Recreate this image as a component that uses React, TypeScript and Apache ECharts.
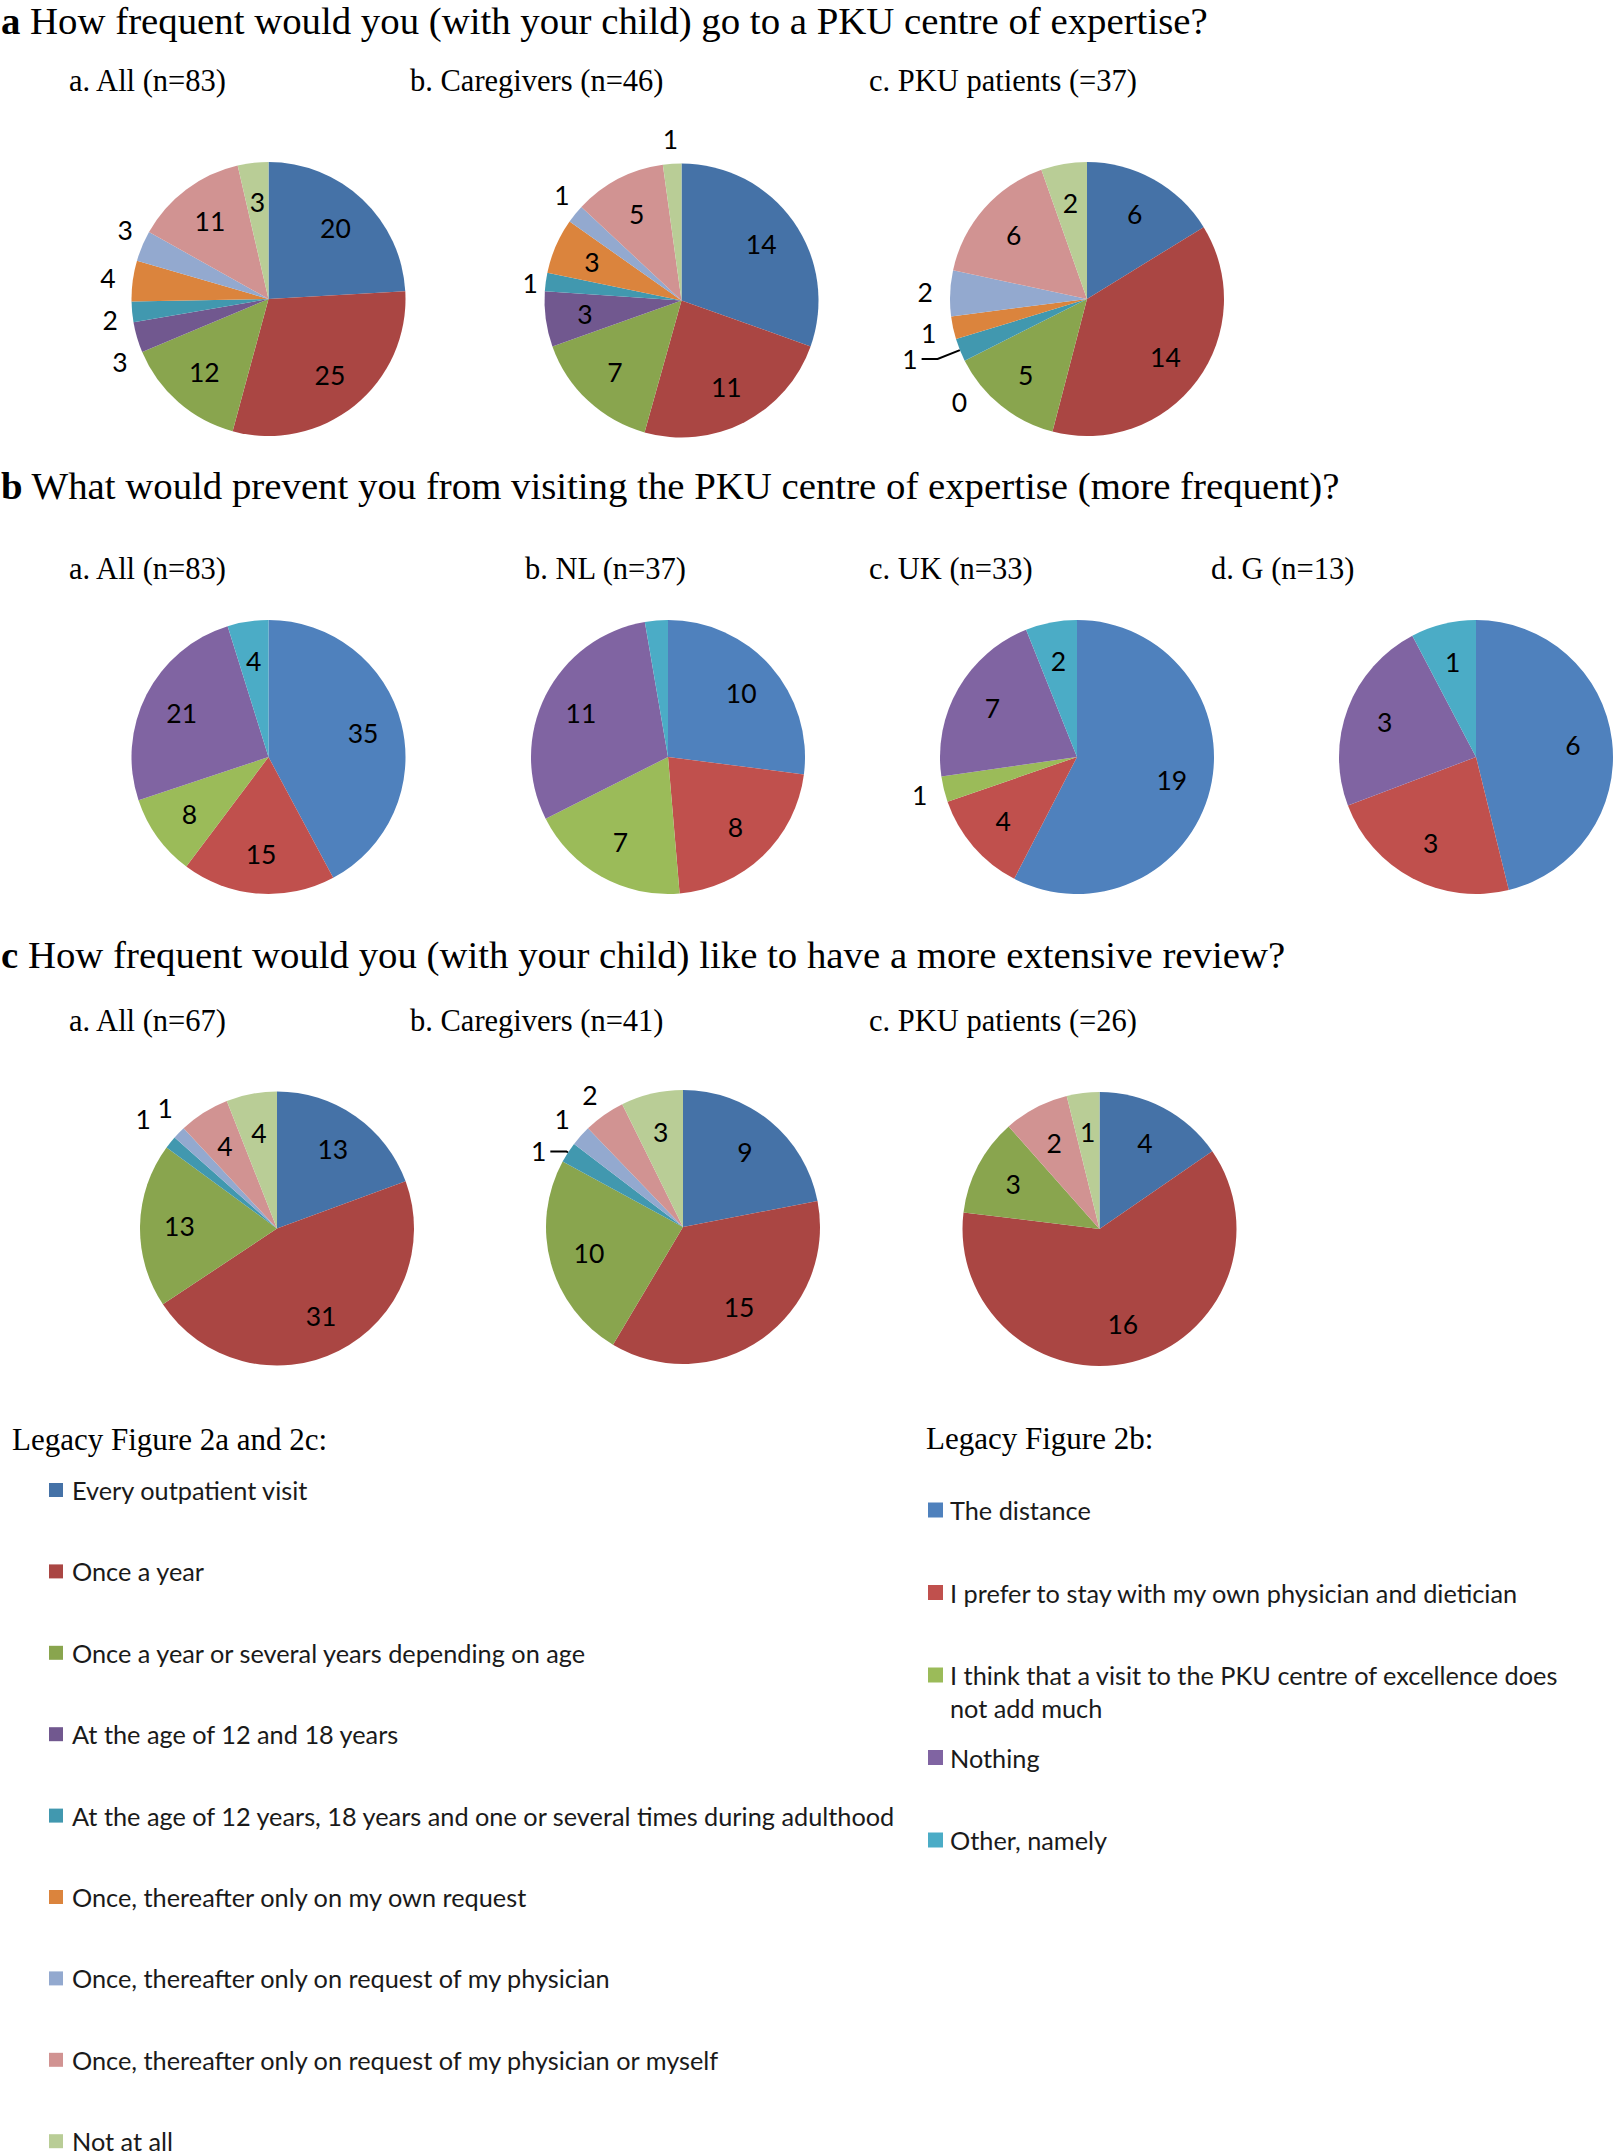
import React, { useEffect, useRef } from 'react';
import * as echarts from 'echarts';

// ---------- categories ----------
const frequencyCategories = [
  'Every outpatient visit',
  'Once a year',
  'Once a year or several years depending on age',
  'At the age of 12 and 18 years',
  'At the age of 12 years, 18 years and one or several times during adulthood',
  'Once, thereafter only on my own request',
  'Once, thereafter only on request of my physician',
  'Once, thereafter only on request of my physician or myself',
  'Not at all',
];
const barrierCategories = [
  'The distance',
  'I prefer to stay with my own physician and dietician',
  'I think that a visit to the PKU centre of excellence does\nnot add much',
  'Nothing',
  'Other, namely',
];

// ---------- values ----------
// Figure a: How frequent would you go to a PKU centre of expertise?
const aAll = [20, 25, 12, 3, 2, 4, 3, 11, 3];
const aCaregivers = [14, 11, 7, 3, 1, 3, 1, 5, 1];
const aPatients = [6, 14, 5, 0, 1, 1, 2, 6, 2];
// Figure b: What would prevent you from visiting?
const bAll = [35, 15, 8, 21, 4];
const bNL = [10, 8, 7, 11, 1];
const bUK = [19, 4, 1, 7, 2];
const bG = [6, 3, 0, 3, 1];
// Figure c: How frequent a more extensive review?
const cAll = [13, 31, 13, 0, 1, 0, 1, 4, 4];
const cCaregivers = [9, 15, 10, 0, 1, 0, 1, 2, 3];
const cPatients = [4, 16, 3, 0, 0, 0, 0, 2, 1];

// ---------- texts ----------
const titleA = 'How frequent would you (with your child) go to a PKU centre of expertise?';
const titleB = 'What would prevent you from visiting the PKU centre of expertise (more frequent)?';
const titleC = 'How frequent would you (with your child) like to have a more extensive review?';
const subtitlesA = ['a. All (n=83)', 'b. Caregivers (n=46)', 'c. PKU patients (=37)'];
const subtitlesB = ['a. All (n=83)', 'b. NL (n=37)', 'c. UK (n=33)', 'd. G (n=13)'];
const subtitlesC = ['a. All (n=67)', 'b. Caregivers (n=41)', 'c. PKU patients (=26)'];
const legendTitleAC = 'Legacy Figure 2a and 2c:';
const legendTitleB = 'Legacy Figure 2b:';

// ---------- styles ----------
const freqColors = ['#4572A7', '#AA4643', '#89A54E', '#71588F', '#4198AF', '#DB843D', '#93A9CF', '#D19392', '#B9CD96'];
const barrierColors = ['#4F81BD', '#C0504D', '#9BBB59', '#8064A2', '#4BACC6'];

const W = 1617;
const H = 2156;
const R = 137;
const SERIF = '"Liberation Serif", "Times New Roman", serif';
const SANS = 'Lato, "Open Sans", sans-serif';
const LABEL_SIZE = 26.5;

type PieSpec = {
  values: number[];
  names: string[];
  colors: string[];
  center: [number, number];
  place: string; // i = inside, o = outside, l = outside with leader, - = none
  offsets?: Record<number, [number, number]>;
  leader?: [number, number];
};

const pies: PieSpec[] = [
  { values: aAll, names: frequencyCategories, colors: freqColors, center: [268.5, 299], place: 'iiiooooii', offsets: { 3: [7, 18], 4: [3, 6], 6: [6, -6] } },
  { values: aCaregivers, names: frequencyCategories, colors: freqColors, center: [681.5, 300.5], place: 'iiiioioio', offsets: { 4: [9, 5], 6: [6, -3] } },
  { values: aPatients, names: frequencyCategories, colors: freqColors, center: [1087, 299], place: 'iiiolooii', offsets: { 3: [17, 30] }, leader: [24, 16] },
  { values: bAll, names: barrierCategories, colors: barrierColors, center: [268.5, 757], place: 'iiiii' },
  { values: bNL, names: barrierCategories, colors: barrierColors, center: [668, 757], place: 'iiii-' },
  { values: bUK, names: barrierCategories, colors: barrierColors, center: [1077, 757], place: 'iioii' },
  { values: bG, names: barrierCategories, colors: barrierColors, center: [1476, 757], place: 'ii-ii' },
  { values: cAll, names: frequencyCategories, colors: freqColors, center: [277, 1228.5], place: 'iii-o-oii', offsets: { 4: [-8, -8], 6: [4, -7] } },
  { values: cCaregivers, names: frequencyCategories, colors: freqColors, center: [683, 1227], place: 'iii-l-ooi', leader: [2, 16] },
  { values: cPatients, names: frequencyCategories, colors: freqColors, center: [1099.5, 1229], place: 'iii----ii' },
];

function buildSeries() {
  const series: any[] = [];
  pies.forEach((p) => {
    series.push({
      type: 'pie',
      center: p.center,
      radius: R,
      startAngle: 90,
      clockwise: true,
      silent: true,
      emphasis: { disabled: true },
      itemStyle: { borderWidth: 0 },
      label: { show: false },
      labelLine: { show: false },
      data: p.values.map((v, i) => ({ name: p.names[i], value: v, itemStyle: { color: p.colors[i] } })),
    });
    const labelRing = (kind: string, radius: any) => ({
      type: 'pie',
      center: p.center,
      radius,
      startAngle: 90,
      clockwise: true,
      silent: true,
      emphasis: { disabled: true },
      avoidLabelOverlap: false,
      itemStyle: { color: 'rgba(0,0,0,0)', borderWidth: 0 },
      label: { show: true, position: 'inside', formatter: '{c}', color: '#000', fontSize: LABEL_SIZE, fontFamily: SANS },
      labelLine: { show: false },
      labelLayout: (params: any) => {
        const o = p.offsets && p.offsets[params.dataIndex];
        return kind === 'o' && o ? { dx: o[0], dy: o[1] } : {};
      },
      data: p.values.map((v, i) => ({ name: p.names[i], value: v, label: { show: p.place[i] === kind } })),
    });
    series.push(labelRing('i', [0.4 * R, 0.98 * R]));
    series.push(labelRing('o', [1.04 * R, 1.28 * R]));
    if (p.leader) {
      series.push({
        type: 'pie',
        center: p.center,
        radius: R,
        startAngle: 90,
        clockwise: true,
        silent: true,
        emphasis: { disabled: true },
        avoidLabelOverlap: false,
        itemStyle: { color: 'rgba(0,0,0,0)', borderWidth: 0 },
        label: { show: true, position: 'outside', formatter: '{c}', color: '#000', fontSize: LABEL_SIZE, fontFamily: SANS, distanceToLabelLine: 4 },
        labelLine: { show: true, length: p.leader[0], length2: p.leader[1], lineStyle: { color: '#000', width: 2 } },
        data: p.values.map((v, i) => ({
          name: p.names[i],
          value: v,
          label: { show: p.place[i] === 'l' },
          labelLine: { show: p.place[i] === 'l' },
        })),
      });
    }
  });
  return series;
}

function serifText(x: number, y: number, text: string, size: number, rich?: boolean) {
  return {
    type: 'text',
    x,
    y,
    silent: true,
    style: {
      text,
      fill: '#000',
      fontSize: size,
      fontFamily: SERIF,
      align: 'left',
      verticalAlign: 'middle',
      rich: rich ? { b: { fontWeight: 'bold', fontSize: size, fontFamily: SERIF, fill: '#000' } } : undefined,
    },
  };
}

function buildGraphic() {
  const g: any[] = [];
  const TITLE = 38.8;
  const SUB = 30.5;
  g.push(serifText(1, 20.5, '{b|a} ' + titleA, TITLE, true));
  g.push(serifText(1, 485, '{b|b} ' + titleB, TITLE, true));
  g.push(serifText(1, 954, '{b|c} ' + titleC, TITLE, true));
  const subXA = [69, 410, 869];
  const subXB = [69, 525, 869, 1211];
  subtitlesA.forEach((t, i) => g.push(serifText(subXA[i], 81, t, SUB)));
  subtitlesB.forEach((t, i) => g.push(serifText(subXB[i], 569, t, SUB)));
  subtitlesC.forEach((t, i) => g.push(serifText(subXA[i], 1021, t, SUB)));

  g.push(serifText(12, 1439, legendTitleAC, 31));
  g.push(serifText(926, 1438, legendTitleB, 31));

  const LEG = 25.3;
  const LH = 32.5;
  frequencyCategories.forEach((name, i) => {
    const cy = 1490 + 81.4 * i;
    g.push({ type: 'rect', silent: true, shape: { x: 49, y: cy - 7, width: 14, height: 14 }, style: { fill: freqColors[i] } });
    g.push({
      type: 'text', x: 72, y: cy - LH / 2, silent: true,
      style: { text: name, fill: '#1a1a1a', fontSize: LEG, fontFamily: SANS, align: 'left', verticalAlign: 'top', lineHeight: LH },
    });
  });
  barrierCategories.forEach((name, i) => {
    const cy = 1510 + 82.5 * i;
    g.push({ type: 'rect', silent: true, shape: { x: 928, y: cy - 7.5, width: 15, height: 15 }, style: { fill: barrierColors[i] } });
    g.push({
      type: 'text', x: 950, y: cy - LH / 2, silent: true,
      style: { text: name, fill: '#1a1a1a', fontSize: LEG, fontFamily: SANS, align: 'left', verticalAlign: 'top', lineHeight: LH },
    });
  });
  return g;
}

export default function App() {
  const ref = useRef<HTMLDivElement>(null);
  useEffect(() => {
    const chart = echarts.init(ref.current!, null, { renderer: 'svg' });
    chart.setOption({
      animation: false,
      backgroundColor: '#ffffff',
      series: buildSeries(),
      graphic: buildGraphic(),
    });
    return () => chart.dispose();
  }, []);
  return <div ref={ref} style={{ position: 'absolute', left: 0, top: 0, width: W, height: H, background: '#fff' }} />;
}
